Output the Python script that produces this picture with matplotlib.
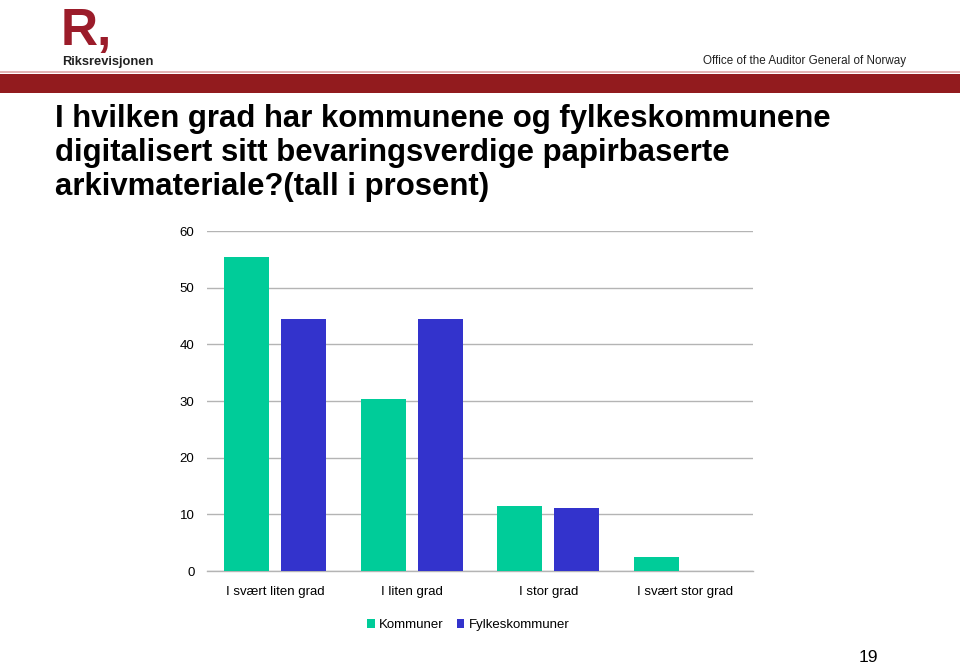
import numpy as np
import matplotlib.pyplot as plt
from matplotlib.patches import Rectangle

# Data (percent)
categories = ["I svært liten grad", "I liten grad", "I stor grad", "I svært stor grad"]
kommuner = [55.5, 30.4, 11.5, 2.5]
fylkeskommuner = [44.4, 44.4, 11.1, 0]
series_names = ["Kommuner", "Fylkeskommuner"]
yticks = [0, 10, 20, 30, 40, 50, 60]

title_lines = [
    "I hvilken grad har kommunene og fylkeskommunene",
    "digitalisert sitt bevaringsverdige papirbaserte",
    "arkivmateriale?(tall i prosent)",
]

green = "#00CC99"
blue = "#3333CC"
grid_gray = "#B4B4B4"
dark_red = "#921B1E"

plt.rcParams['font.family'] = ['Liberation Sans', 'DejaVu Sans']

W, H = 960, 666
fig = plt.figure(figsize=(9.6, 6.66), dpi=100)
fig.patch.set_facecolor("white")


def fx(px):
    return px / W


def fy(py):
    return 1 - py / H


# Header: logo, agency names and red band
fig.text(fx(61), fy(45), "R,", fontsize=37, fontweight="bold", color="#9B1C2A",
         va="baseline", ha="left")
fig.text(fx(62), fy(65), "Riksrevisjonen", fontsize=9.3, fontweight="bold",
         color="#222222", va="baseline", ha="left")
fig.text(fx(703), fy(64), "Office of the Auditor General of Norway", fontsize=8.4,
         color="#222222", va="baseline", ha="left")
fig.patches.append(Rectangle((0, fy(73)), 1, 2 / H, transform=fig.transFigure,
                             facecolor="#E3B5B5", edgecolor="none"))
fig.patches.append(Rectangle((0, fy(93)), 1, 19 / H, transform=fig.transFigure,
                             facecolor=dark_red, edgecolor="none"))

# Title
for i, line in enumerate(title_lines):
    fig.text(fx(55), fy(127 + 34 * i), line, fontsize=22.4, fontweight="bold",
             color="black", va="baseline", ha="left")

# Chart
ax = fig.add_axes([fx(207), fy(571), (753 - 207) / W, (571 - 231) / H])
x = np.arange(len(categories))
width = 0.33
offset = 0.209
b1 = ax.bar(x - offset, kommuner, width, color=green, label=series_names[0], zorder=3)
b2 = ax.bar(x + offset, fylkeskommuner, width, color=blue, label=series_names[1], zorder=3)

ax.set_xlim(-0.5, len(categories) - 0.5)
ax.set_ylim(0, 60)
ax.set_yticks(yticks)
ax.set_xticks(x)
ax.set_xticklabels(categories)
ax.tick_params(axis="both", length=0, labelsize=9.5, colors="black")
ax.tick_params(axis="x", pad=11)
ax.tick_params(axis="y", pad=9)
ax.yaxis.grid(True, color=grid_gray, linewidth=1)
ax.set_axisbelow(True)
for side in ["left", "right", "top"]:
    ax.spines[side].set_visible(False)
ax.spines["bottom"].set_color(grid_gray)
ax.spines["bottom"].set_linewidth(1)

fig.legend(handles=[b1, b2], labels=series_names, loc="center",
           bbox_to_anchor=(fx(468), fy(625)), ncol=2, frameon=False,
           fontsize=9.5, handlelength=0.6, handleheight=0.6,
           handletextpad=0.3, columnspacing=1.0)

# Page number
fig.text(fx(868), fy(658), "19", fontsize=12.5, ha="center", va="center", color="black")

fig.savefig("out.png", dpi=100)
